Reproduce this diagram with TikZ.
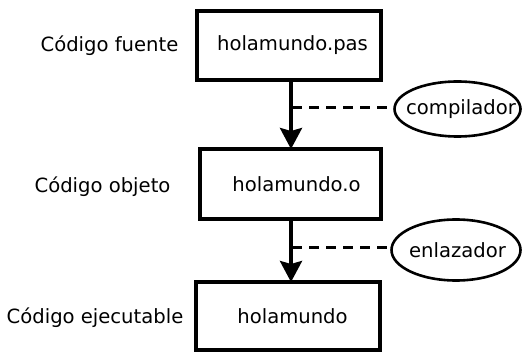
\documentclass[tikz,border=0pt]{standalone}
\usepackage{fontspec}
\setmainfont{DejaVu Sans}
\usetikzlibrary{shapes.geometric,arrows.meta}
\begin{document}
\begin{tikzpicture}[x=1pt,y=-1pt,
  font=\fontsize{19.6}{23}\selectfont,
  box/.style={draw,line width=3.6pt,inner sep=0pt,minimum width=184pt,minimum height=69pt},
  cloud/.style={draw,ellipse,line width=2.6pt,inner sep=0pt},
  lab/.style={inner sep=0pt},
  arr/.style={line width=3.6pt,-{Stealth[inset=3pt,length=21pt,width=22pt]}},
  dline/.style={line width=3pt,dash pattern=on 10pt off 7pt}]
\useasboundingbox (0,0) rectangle (524,352);
\node[box] (b1) at (289,45.5) {\hspace*{7pt}holamundo.pas};
\node[box,minimum width=181pt,minimum height=70pt] (b2) at (290.5,184) {\hspace*{12pt}holamundo.o};
\node[box,minimum height=68pt] (b3) at (288,316) {\hspace*{9pt}holamundo};
\node[lab] (l1) at (109.5,46) {Código fuente};
\node[lab] (l2) at (102.5,187) {Código objeto};
\node[lab] (l3) at (95,318) {Código ejecutable};
\node[cloud,minimum width=126pt,minimum height=55pt] (e1) at (457.5,109) {\makebox[0pt]{\hspace*{7pt}compilador}};
\node[cloud,minimum width=129pt,minimum height=61pt] (e2) at (456,250) {\makebox[0pt]{\hspace*{3pt}enlazador}};
\coordinate (a1s) at (291,80);
\coordinate (a1e) at (291,149);
\coordinate (a2s) at (291,219);
\coordinate (a2e) at (291,282);
\draw[arr] (a1s) -- (a1e);
\draw[arr] (a2s) -- (a2e);
\coordinate (m1) at (292,108);
\coordinate (m2) at (292,248);
\draw[dline] (m1) -- (m1 -| e1.west);
\draw[dline] (m2) -- (m2 -| e2.west);
\end{tikzpicture}
\end{document}
